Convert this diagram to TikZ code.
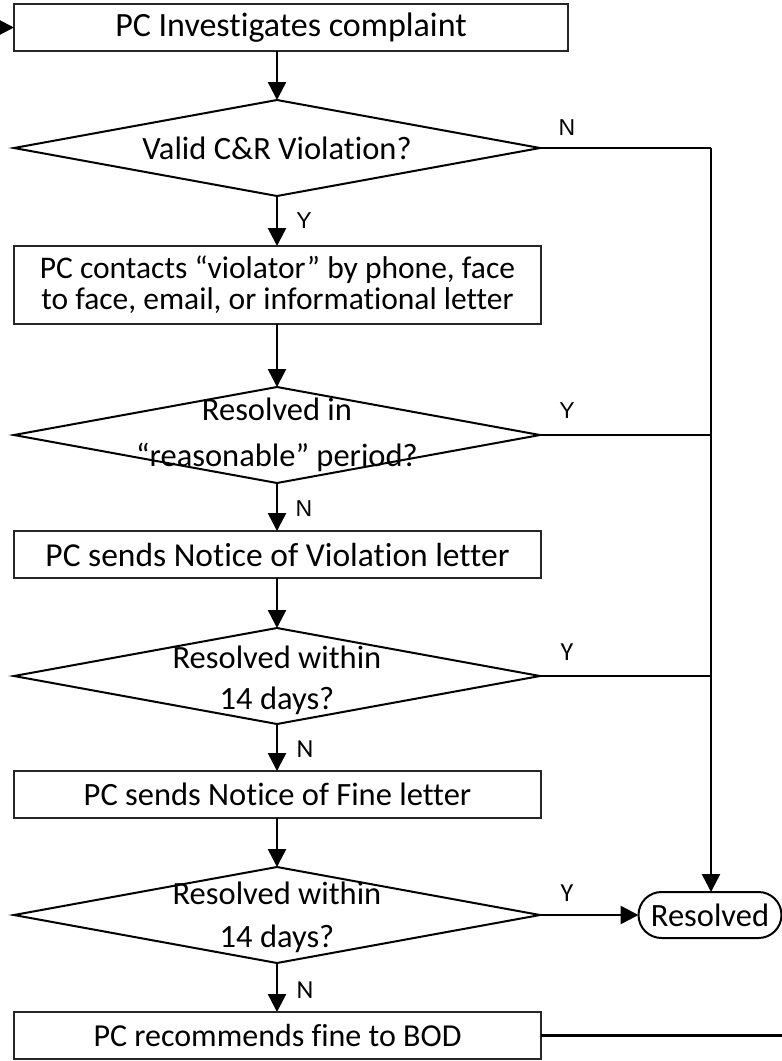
\documentclass[tikz,border=0pt]{standalone}
\usepackage{fontspec}
\setmainfont{Carlito}[Ligatures=NoCommon]
\newfontfamily\arialf{Liberation Sans}
\usetikzlibrary{shapes.geometric,shapes.misc,arrows.meta}
\begin{document}
\begin{tikzpicture}[x=1pt,y=-1pt,
  every node/.style={font=\fontsize{32.5}{36}\selectfont},
  procbox/.style={draw=black!85,line width=2pt,rectangle,inner sep=0pt,outer sep=0pt,align=center},
  decis/.style={draw=black,line width=2pt,diamond,minimum width=526pt,minimum height=96pt,inner sep=0pt,outer sep=0pt},
  dtext/.style={align=center,inner sep=0pt},
  endbox/.style={draw=black,line width=2pt,rounded rectangle,minimum width=143pt,minimum height=46pt,inner sep=0pt,outer sep=0pt},
  conn/.style={line width=2.6pt,black},
  arr/.style={conn,-{Triangle[length=18pt,width=18pt]}},
  labA/.style={font=\arialf\fontsize{23}{26}\selectfont,inner sep=0pt},
  labB/.style={font=\fontsize{26}{28}\selectfont,inner sep=0pt}]
\useasboundingbox (0,0) rectangle (782,1061);

\node[procbox,minimum width=554pt,minimum height=47pt,font=\fontsize{34}{36}\selectfont] (b1) at (291,27.5) {PC Investigates complaint};
\node[decis] (d1) at (277,148) {};
\node[dtext] (d1t) at (277,148) {Valid C\&R Violation?};
\node[procbox,minimum width=527pt,minimum height=78pt,font=\fontsize{31.5}{31}\selectfont] (b2) at (277.5,285) {PC contacts “violator” by phone, face\\to face, email, or informational letter};
\node[decis] (d2) at (277,435) {};
\node[dtext,font=\fontsize{32.5}{46}\selectfont] (d2t) at (277,435) {Resolved in\\“reasonable” period?};
\node[procbox,minimum width=527pt,minimum height=47pt,font=\fontsize{33.5}{36}\selectfont] (b3) at (277.5,554.5) {PC sends Notice of Violation letter};
\node[decis] (d3) at (277,676) {};
\node[dtext,font=\fontsize{32.5}{41}\selectfont] (d3t) at (277,680) {Resolved within\\14 days?};
\node[procbox,minimum width=527pt,minimum height=47pt] (b4) at (277.5,794.5) {PC sends Notice of Fine letter};
\node[decis] (d4) at (277,915) {};
\node[dtext,font=\fontsize{32.5}{43}\selectfont] (d4t) at (277,917) {Resolved within\\14 days?};
\node[procbox,minimum width=527pt,minimum height=47pt,font=\fontsize{32}{36}\selectfont] (b5) at (277.5,1035.5) {PC recommends fine to BOD};
\node[endbox] (res) at (710,915) {Resolved};

\coordinate (start) at (0,27.5);
\coordinate (c1) at (711,148);
\coordinate (c2) at (711,435);
\coordinate (c3) at (711,676);
\coordinate (fin) at (782,1035.5);

\draw[arr] (start) -- (b1.west);
\draw[arr] (b1.south -| d1.north) -- (d1.north);
\draw[arr] (d1.south) -- (b2.north -| d1.south);
\draw[arr] (b2.south -| d2.north) -- (d2.north);
\draw[arr] (d2.south) -- (b3.north -| d2.south);
\draw[arr] (b3.south -| d3.north) -- (d3.north);
\draw[arr] (d3.south) -- (b4.north -| d3.south);
\draw[arr] (b4.south -| d4.north) -- (d4.north);
\draw[arr] (d4.south) -- (b5.north -| d4.south);

\draw[conn] (d1.east) -- (c1);
\draw[arr] (c1) -- (c1 |- res.north);
\draw[conn] (d2.east) -- (c2);
\draw[conn] (d3.east) -- (c3);
\draw[arr] (d4.east) -- (res.west);
\draw[conn] (b5.east) -- (fin);

\node[labA] (l1) at (567,128) {N};
\node[labA] (l2) at (304,221) {Y};
\node[labA] (l3) at (567,411) {Y};
\node[labA] (l4) at (304,509) {N};
\node[labB] (l5) at (567,652) {Y};
\node[labB] (l6) at (305,749) {N};
\node[labB] (l7) at (567,893) {Y};
\node[labB] (l8) at (305,990) {N};
\end{tikzpicture}
\end{document}
